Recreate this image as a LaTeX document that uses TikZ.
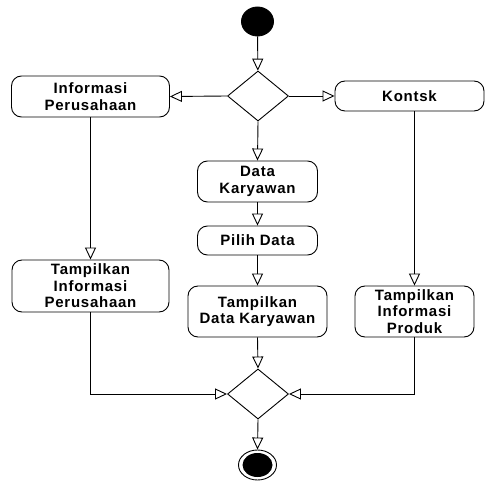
\documentclass[tikz,border=0pt]{standalone}
\usepackage{fontspec}
\setmainfont{Liberation Sans}[LetterSpace=5]
\usetikzlibrary{shapes.geometric,arrows.meta}
\begin{document}
\begin{tikzpicture}[x=1pt,y=-1pt,
  line width=0.9pt,
  act/.style={draw, rounded corners=10pt, align=center, inner sep=0pt,
    font=\fontsize{15}{16.5}\selectfont\bfseries},
  decide/.style={draw, diamond, minimum width=61pt, minimum height=50pt, inner sep=0pt},
  flow/.style={-{Triangle[open, length=12pt, width=11pt, line width=0.9pt]}}]
\useasboundingbox (0,0) rectangle (485,481);

% start and end markers
\node[draw, fill=black, ellipse, minimum width=32pt, minimum height=29pt, inner sep=0pt] (start) at (257.5,21.5) {};
\node[draw, ellipse, minimum width=38pt, minimum height=30pt, inner sep=0pt] (stop) at (257.5,465) {};
\node[fill=black, ellipse, minimum width=30pt, minimum height=24pt, inner sep=0pt] at (stop) {};

% decision and merge
\node[decide] (split) at (258,96) {};
\node[decide] (merge) at (258,394) {};

% activities
\node[act, minimum width=158pt, minimum height=41pt] (infoP) at (90.5,96.5) {Informasi\\Perusahaan};
\node[act, minimum width=149pt, minimum height=30pt] (kontsk) at (409.5,96) {Kontsk};
\node[act, minimum width=120pt, minimum height=41pt] (dataK) at (257.5,181.5) {Data\\Karyawan};
\node[act, minimum width=120pt, minimum height=29pt] (pilih) at (257.5,240.5) {Pilih Data};
\node[act, minimum width=139pt, minimum height=51pt] (tampDK) at (257.5,311.5) {Tampilkan\\Data Karyawan};
\node[act, minimum width=157pt, minimum height=52pt] (tampIP) at (90.5,286) {Tampilkan\\Informasi\\Perusahaan};
\node[act, minimum width=119pt, minimum height=51pt] (tampPr) at (414.5,311.5) {Tampilkan\\Informasi\\Produk};

% flows
\draw[flow] (start) -- (split);
\draw[flow] (split.west) -- (infoP.east);
\draw[flow] (split.east) -- (kontsk.west);
\draw[flow] (split.south) -- (dataK.north);
\draw[flow] (dataK) -- (pilih);
\draw[flow] (pilih) -- (tampDK);
\draw[flow] (infoP) -- (tampIP);
\draw[flow] (tampPr.north |- kontsk.south) -- (tampPr.north);
\draw[flow] (tampIP.south) |- (merge.west);
\draw[flow] (tampPr.south) |- (merge.east);
\draw[flow] (tampDK.south) -- (merge.north);
\draw[flow] (merge.south) -- (stop.north);
\end{tikzpicture}
\end{document}
